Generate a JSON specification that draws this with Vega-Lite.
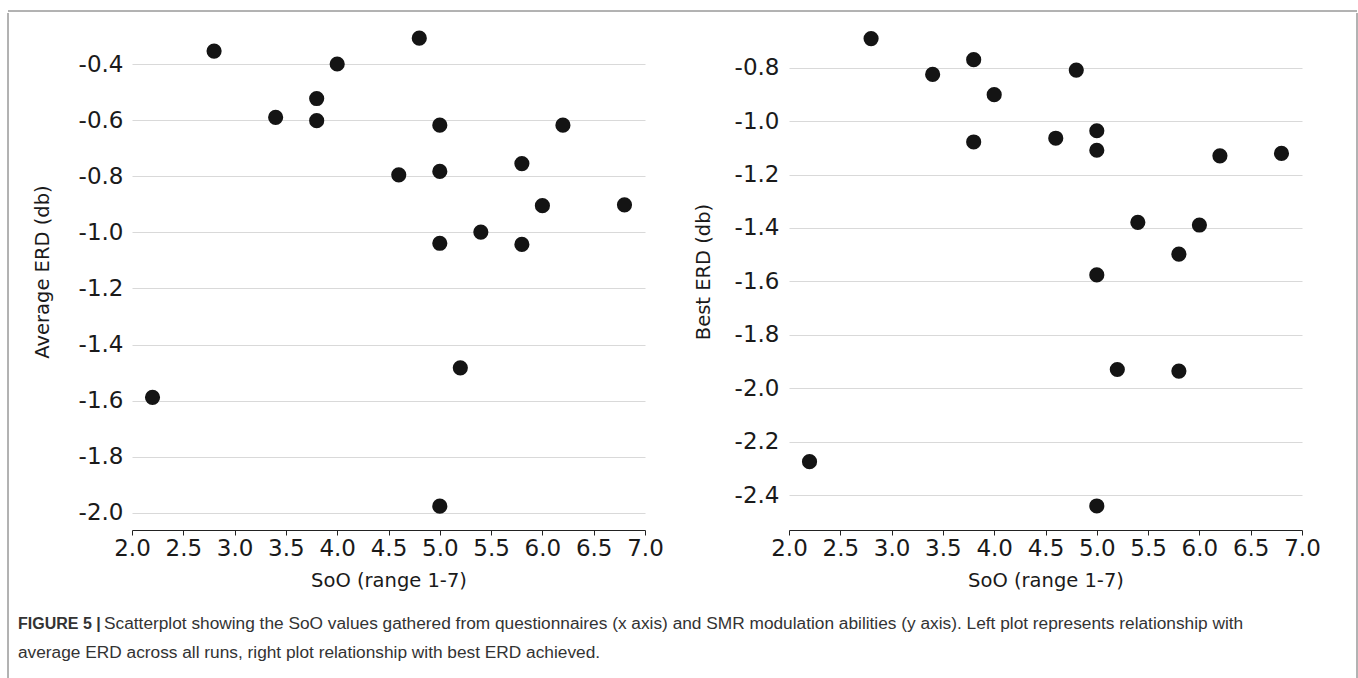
{
  "$schema": "https://vega.github.io/schema/vega-lite/v6.json",
  "background": "white",
  "padding": {"left": 7, "top": 10, "right": 0, "bottom": 0},
  "config": {
    "view": {"stroke": null},
    "font": "DejaVu Sans",
    "locale": {"number": {"decimal": ".", "thousands": ",", "grouping": [3], "currency": ["$", ""], "minus": "-"}},
    "axis": {
      "labelFont": "DejaVu Sans",
      "titleFont": "DejaVu Sans",
      "labelColor": "#1a1a1a",
      "titleColor": "#1a1a1a",
      "labelFontSize": 23,
      "titleFontSize": 19.5,
      "titleFontWeight": "normal"
    },
    "axisX": {
      "grid": false,
      "domainColor": "#222",
      "tickColor": "#222",
      "tickSize": 5,
      "labelPadding": 2,
      "titlePadding": 11,
      "labelOverlap": false,
      "labelBound": false,
      "labelFlush": false,
      "values": [2, 2.5, 3, 3.5, 4, 4.5, 5, 5.5, 6, 6.5, 7],
      "format": ".1f"
    },
    "axisY": {
      "grid": true,
      "gridColor": "#d9d9d9",
      "gridWidth": 1.2,
      "domain": false,
      "ticks": false,
      "tickSize": 0,
      "labelPadding": 9,
      "labelOverlap": false,
      "format": ".1f"
    }
  },
  "datasets": {
    "avg": [
      {"soo": 2.8, "erd": -0.354}, {"soo": 4.8, "erd": -0.308}, {"soo": 4.0, "erd": -0.400},
      {"soo": 3.8, "erd": -0.523}, {"soo": 3.4, "erd": -0.590}, {"soo": 3.8, "erd": -0.602},
      {"soo": 5.0, "erd": -0.618}, {"soo": 6.2, "erd": -0.618}, {"soo": 5.8, "erd": -0.755},
      {"soo": 4.6, "erd": -0.795}, {"soo": 5.0, "erd": -0.783}, {"soo": 6.0, "erd": -0.905},
      {"soo": 6.8, "erd": -0.902}, {"soo": 5.4, "erd": -0.999}, {"soo": 5.0, "erd": -1.039},
      {"soo": 5.8, "erd": -1.043}, {"soo": 5.2, "erd": -1.483}, {"soo": 2.2, "erd": -1.588},
      {"soo": 5.0, "erd": -1.976}
    ],
    "best": [
      {"soo": 2.8, "erd": -0.691}, {"soo": 3.4, "erd": -0.825}, {"soo": 3.8, "erd": -0.770},
      {"soo": 4.0, "erd": -0.901}, {"soo": 4.8, "erd": -0.809}, {"soo": 3.8, "erd": -1.078},
      {"soo": 4.6, "erd": -1.064}, {"soo": 5.0, "erd": -1.036}, {"soo": 5.0, "erd": -1.109},
      {"soo": 6.2, "erd": -1.130}, {"soo": 6.8, "erd": -1.121}, {"soo": 5.4, "erd": -1.379},
      {"soo": 6.0, "erd": -1.389}, {"soo": 5.8, "erd": -1.498}, {"soo": 5.0, "erd": -1.576},
      {"soo": 5.2, "erd": -1.930}, {"soo": 5.8, "erd": -1.936}, {"soo": 2.2, "erd": -2.275},
      {"soo": 5.0, "erd": -2.441}
    ],
    "one": [{}]
  },
  "spacing": 0,
  "vconcat": [
    {
      "data": {"name": "one"},
      "width": 1349,
      "height": 1,
      "mark": {"type": "rule", "color": "#666", "strokeWidth": 1},
      "encoding": {"y": {"datum": 1, "type": "quantitative", "scale": {"domain": [0, 1]}, "axis": null}}
    },
    {
      "spacing": 9,
      "hconcat": [
        {
          "data": {"name": "one"},
          "width": 1,
          "height": 666,
          "mark": {"type": "rule", "color": "#666", "strokeWidth": 1},
          "encoding": {"x": {"datum": 0, "type": "quantitative", "scale": {"domain": [0, 1]}, "axis": null}}
        },
        {
          "spacing": 19,
          "vconcat": [
            {
              "spacing": 29,
              "hconcat": [
                {
                  "data": {"name": "avg"},
                  "width": 513,
                  "height": 517,
                  "mark": {"type": "circle", "size": 230, "color": "#141414", "opacity": 1},
                  "encoding": {
                    "x": {"field": "soo", "type": "quantitative", "scale": {"domain": [2, 7], "nice": false, "zero": false}, "axis": {"title": "SoO (range 1-7)"}},
                    "y": {"field": "erd", "type": "quantitative", "scale": {"domain": [-2.061, -0.2182], "nice": false, "zero": false}, "axis": {"title": "Average ERD (db)", "values": [-2.0, -1.8, -1.6, -1.4, -1.2, -1.0, -0.8, -0.6, -0.4], "titlePadding": 26}}
                  }
                },
                {
                  "data": {"name": "best"},
                  "width": 513,
                  "height": 517,
                  "mark": {"type": "circle", "size": 230, "color": "#141414", "opacity": 1},
                  "encoding": {
                    "x": {"field": "soo", "type": "quantitative", "scale": {"domain": [2, 7], "nice": false, "zero": false}, "axis": {"title": "SoO (range 1-7)"}},
                    "y": {"field": "erd", "type": "quantitative", "scale": {"domain": [-2.531, -0.5951], "nice": false, "zero": false}, "axis": {"title": "Best ERD (db)", "values": [-2.4, -2.2, -2.0, -1.8, -1.6, -1.4, -1.2, -1.0, -0.8], "titlePadding": 21, "labelPadding": 10}}
                  }
                }
              ]
            },
            {
              "width": 1215,
              "height": 58,
              "data": {"values": [
                {"line": 1, "kind": "label", "text": "FIGURE 5 |"},
                {"line": 1, "kind": "body", "text": "Scatterplot showing the SoO values gathered from questionnaires (x axis) and SMR modulation abilities (y axis). Left plot represents relationship with"},
                {"line": 2, "kind": "body2", "text": "average ERD across all runs, right plot relationship with best ERD achieved."}
              ]},
              "encoding": {
                "y": {"field": "line", "type": "ordinal", "axis": null},
                "x": {"datum": 0, "type": "quantitative", "scale": {"domain": [0, 1]}, "axis": null},
                "text": {"field": "text"}
              },
              "layer": [
                {"transform": [{"filter": "datum.kind == 'label'"}], "mark": {"type": "text", "align": "left", "baseline": "middle", "font": "Liberation Sans", "fontSize": 16, "fontWeight": "bold", "color": "#333", "dx": -114}},
                {"transform": [{"filter": "datum.kind == 'body'"}], "mark": {"type": "text", "align": "left", "baseline": "middle", "font": "Liberation Sans", "fontSize": 17.3, "color": "#333", "dx": -28}},
                {"transform": [{"filter": "datum.kind == 'body2'"}], "mark": {"type": "text", "align": "left", "baseline": "middle", "font": "Liberation Sans", "fontSize": 17.3, "color": "#333", "dx": -114}}
              ]
            }
          ]
        },
        {
          "data": {"name": "one"},
          "width": 1,
          "height": 666,
          "mark": {"type": "rule", "color": "#666", "strokeWidth": 1},
          "encoding": {"x": {"datum": 0, "type": "quantitative", "scale": {"domain": [0, 1]}, "axis": null}}
        }
      ]
    }
  ]
}
